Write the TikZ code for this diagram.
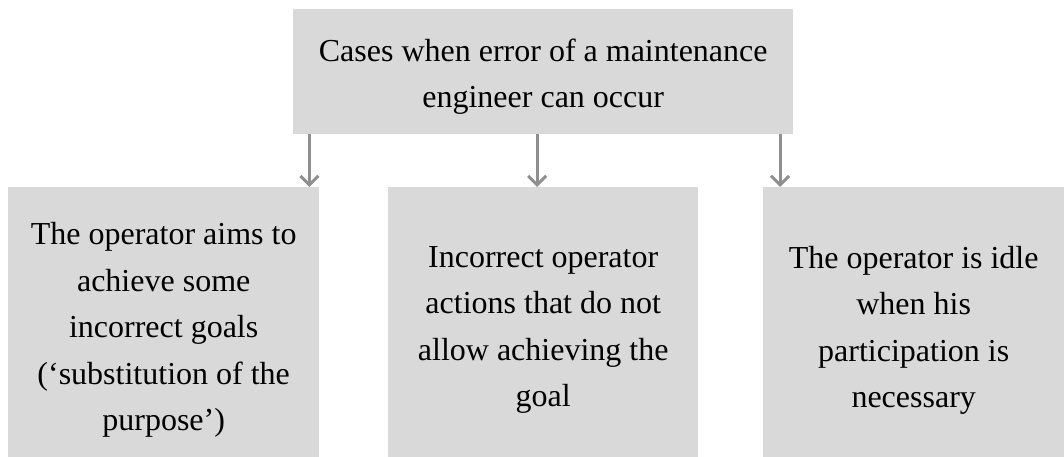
\documentclass[tikz,border=0pt]{standalone}
\usepackage{fontspec}
\setmainfont{Liberation Serif}
\usetikzlibrary{arrows.meta}
\definecolor{boxgray}{HTML}{D9D9D9}
\definecolor{arrowgray}{HTML}{8F8F8F}
\tikzset{
  x=1pt, y=1pt,
  casebox/.style={rectangle, fill=boxgray, draw=none, anchor=north west,
    inner sep=0pt},
  casetext/.style={inner sep=0pt, align=center,
    font=\fontsize{32}{46.5}\selectfont},
  flow/.style={draw=arrowgray, line width=3pt,
    -{Straight Barb[length=9pt,width=18pt,line width=3pt]}}
}
\begin{document}
\begin{tikzpicture}
\useasboundingbox (0,0) rectangle (1064,457);
% header box
\node[casebox, minimum width=500pt, minimum height=125pt] (top) at (293,448) {};
\node[casetext] (toptext) at ([yshift=-5pt]top.center)
  {Cases when error of a maintenance\\engineer can occur};
% the three cases
\node[casebox, minimum width=311pt, minimum height=270pt] (left) at (8,270) {};
\node[casebox, minimum width=310pt, minimum height=270pt] (mid) at (388,270) {};
\node[casebox, minimum width=301pt, minimum height=270pt] (right) at (763,270) {};
\node[casetext] (lefttext) at ([yshift=-8pt]left.center)
  {The operator aims to\\achieve some\\incorrect goals\\(‘substitution of the\\purpose’)};
\node[casetext] (midtext) at ([yshift=-8pt]mid.center)
  {Incorrect operator\\actions that do not\\allow achieving the\\goal};
\node[casetext] (righttext) at ([yshift=-8pt]right.center)
  {The operator is idle\\when his\\participation is\\necessary};
% connectors
\coordinate (a1) at ([xshift=-10pt]left.north east);
\coordinate (a2) at ([xshift=-6pt]mid.north);
\coordinate (a3) at ([xshift=17pt]right.north west);
\draw[flow] (top.south -| a1) -- (a1);
\draw[flow] (top.south -| a2) -- (a2);
\draw[flow] (top.south -| a3) -- (a3);
\end{tikzpicture}
\end{document}
